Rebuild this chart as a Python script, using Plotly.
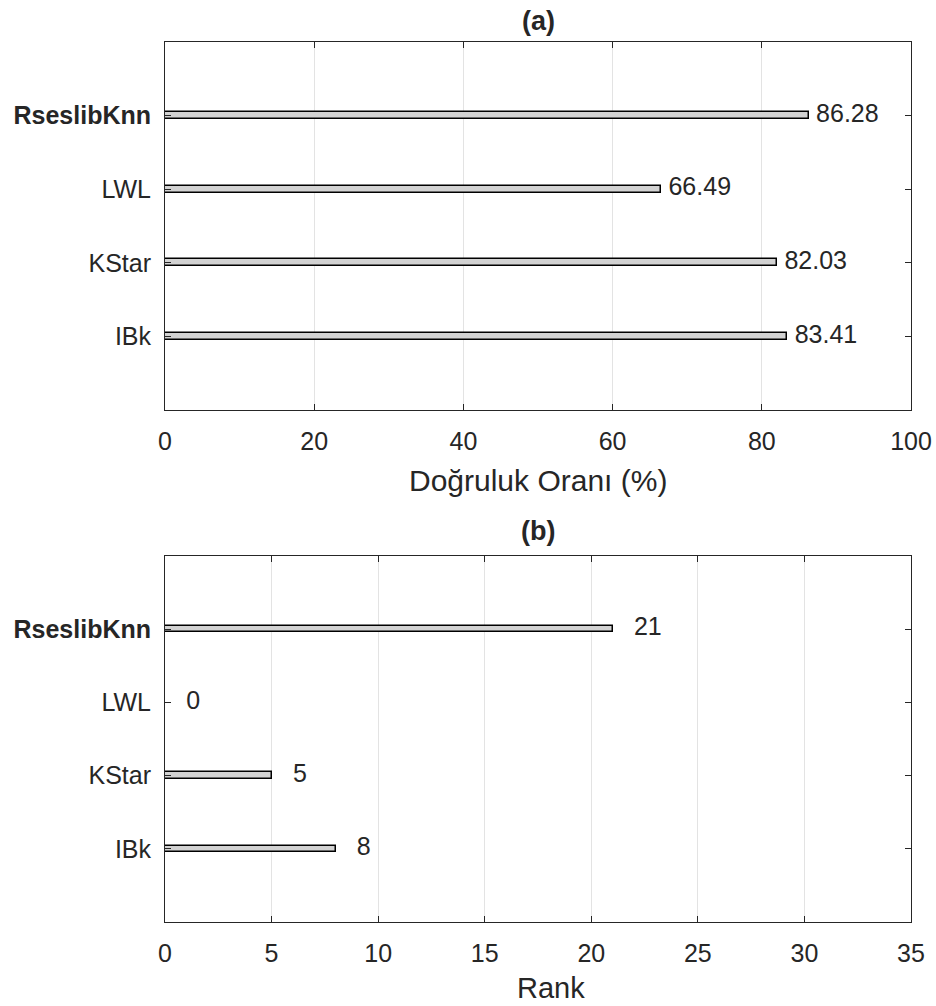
import plotly.graph_objects as go

categories = ["IBk", "KStar", "LWL", "RseslibKnn"]
tick_labels = ["IBk", "KStar", "LWL", "<b>RseslibKnn</b>"]
accuracy = [83.41, 82.03, 66.49, 86.28]
rank = [8, 5, 0, 21]
acc_ticks = [0, 20, 40, 60, 80, 100]
rank_ticks = [0, 5, 10, 15, 20, 25, 30, 35]
positions = [1, 2, 3, 4]

W, H = 936, 1006
xdom = [165 / W, 911 / W]
ydom_a = [(H - 410) / H, (H - 42) / H]
ydom_b = [(H - 922) / H, (H - 556) / H]

txt = "#262626"
font = "Liberation Sans, Arial, Helvetica, sans-serif"
TICK = 25

fig = go.Figure()

def add_panel(vals, xa, ya, fmt):
    fig.add_trace(go.Bar(
        x=vals, y=positions, orientation="h", width=0.09,
        marker=dict(color="#d2d2d2", line=dict(color="black", width=1.5)),
        xaxis=xa, yaxis=ya, showlegend=False, hoverinfo="skip"))
    fig.add_trace(go.Scatter(
        x=[v + 1 for v in vals], y=positions, mode="text",
        text=[fmt(v) for v in vals], textposition="middle right",
        textfont=dict(size=TICK, color=txt, family=font),
        xaxis=xa, yaxis=ya, showlegend=False, hoverinfo="skip", cliponaxis=False))

add_panel(accuracy, "x", "y", lambda v: f"{v:.2f}")
add_panel(rank, "x2", "y2", lambda v: f"{v:d}")

axis_common = dict(
    showline=True, linecolor=txt, linewidth=1, mirror="ticks",
    ticks="inside", ticklen=6, tickcolor=txt, automargin=False,
    tickfont=dict(size=TICK, color=txt, family=font), zeroline=False,
)

fig.update_layout(
    width=W, height=H, autosize=False, showlegend=False,
    margin=dict(l=0, r=0, t=0, b=0, pad=0, autoexpand=False),
    paper_bgcolor="white", plot_bgcolor="white",
    font=dict(family=font, color=txt),
    bargap=0,
    xaxis=dict(domain=xdom, anchor="y", range=[0, 100], tickvals=acc_ticks,
               showgrid=True, gridcolor="#e3e3e3", ticklabelstandoff=9, **axis_common),
    yaxis=dict(domain=ydom_a, anchor="x", range=[0, 5], tickvals=positions,
               ticktext=tick_labels, showgrid=False, ticklabelstandoff=8, **axis_common),
    xaxis2=dict(domain=xdom, anchor="y2", range=[0, 35], tickvals=rank_ticks,
                showgrid=True, gridcolor="#e3e3e3", ticklabelstandoff=9, **axis_common),
    yaxis2=dict(domain=ydom_b, anchor="x2", range=[0, 5], tickvals=positions,
                ticktext=tick_labels, showgrid=False, ticklabelstandoff=8, **axis_common),
    annotations=[
        dict(text="<b>(a)</b>", x=538 / W, y=(H - 21) / H, xref="paper", yref="paper",
             showarrow=False, font=dict(size=27, color=txt, family=font), xanchor="center", yanchor="middle"),
        dict(text="<b>(b)</b>", x=538 / W, y=(H - 531) / H, xref="paper", yref="paper",
             showarrow=False, font=dict(size=27, color=txt, family=font), xanchor="center", yanchor="middle"),
        dict(text="Doğruluk Oranı (%)", x=538 / W, y=(H - 480) / H, xref="paper", yref="paper",
             showarrow=False, font=dict(size=30, color=txt, family=font), xanchor="center", yanchor="middle"),
        dict(text="Rank", x=551 / W, y=(H - 988) / H, xref="paper", yref="paper",
             showarrow=False, font=dict(size=29, color=txt, family=font), xanchor="center", yanchor="middle"),
    ],
)

post = (
    "document.body.style.margin='0';document.body.style.padding='0';"
    "document.documentElement.style.overflow='hidden';document.body.style.overflow='hidden';"
    "var gd=document.getElementById('{plot_id}');"
    "Plotly.relayout(gd,{width:936,height:1006});"
)

fig.write_html("out.html", post_script=post, config={"responsive": False, "displayModeBar": False})
